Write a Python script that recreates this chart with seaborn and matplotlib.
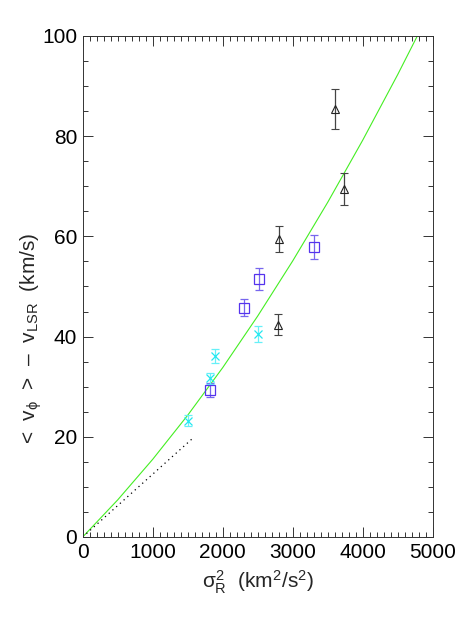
import numpy as np
import pandas as pd
import matplotlib
matplotlib.use("Agg")
import matplotlib.pyplot as plt
import seaborn as sns
from matplotlib.ticker import MultipleLocator

# Values
# black triangles
tri_x = [3604, 3733, 2800, 2786]
tri_y = [85.5, 69.5, 59.4, 42.4]
tri_err = [4.0, 3.2, 2.6, 2.1]

# blue squares
sq_x = [3309, 2523, 2309, 1823]
sq_y = [57.9, 51.4, 45.8, 29.3]
sq_err = [2.4, 2.2, 1.7, 1.4]

# cyan crosses
cx_x = [2509, 1890, 1819, 1500]
cx_y = [40.6, 36.1, 31.7, 23.2]
cx_err = [1.6, 1.4, 1.1, 1.1]

# green model curve
curve_x = [0, 500, 1000, 1500, 2000, 2500, 3000, 3500, 4000, 4500, 4780]
curve_y = [0, 7.4, 15.5, 24.3, 33.8, 44.1, 55.1, 66.8, 79.2, 92.3, 100.0]

# dotted reference line
dot_x = [0, 1580]
dot_y = [0, 19.8]

sns.set_theme(style="ticks")
plt.rcParams['font.family'] = ['Liberation Sans', 'DejaVu Sans']
plt.rcParams['mathtext.fontset'] = 'custom'
plt.rcParams['mathtext.rm'] = 'Liberation Sans'
plt.rcParams['mathtext.it'] = 'Liberation Sans'
plt.rcParams['mathtext.bf'] = 'Liberation Sans'

fig = plt.figure(figsize=(4.63, 6.17), dpi=100)
ax = fig.add_axes([0.1786, 0.1297, 0.756, 0.812])

curve = pd.DataFrame({'x': curve_x, 'y': curve_y})
sns.lineplot(data=curve, x='x', y='y', ax=ax, color='#44ee22', lw=0.8)
ax.plot(dot_x, dot_y, color='black', ls=(0, (1, 3)), lw=0.9)

ax.errorbar(tri_x, tri_y, yerr=tri_err, fmt='^', ms=6, mfc='none', mec='#222222',
            mew=0.8, ecolor='#444444', elinewidth=0.9, capsize=3, capthick=0.9)
ax.errorbar(sq_x, sq_y, yerr=sq_err, fmt='s', ms=6.5, mfc='none', mec='#5533ee',
            mew=0.9, ecolor='#7766ee', elinewidth=0.9, capsize=3, capthick=0.9)
ax.errorbar(cx_x, cx_y, yerr=cx_err, fmt='x', ms=5.5, mec='#22e8f0',
            mew=0.9, ecolor='#66f0f8', elinewidth=0.9, capsize=3, capthick=0.9)

ax.set_xlim(0, 5000)
ax.set_ylim(0, 100)
ax.xaxis.set_major_locator(MultipleLocator(1000))
ax.xaxis.set_minor_locator(MultipleLocator(100))
ax.yaxis.set_major_locator(MultipleLocator(20))
ax.yaxis.set_minor_locator(MultipleLocator(5))
ax.tick_params(which='both', direction='in', top=True, right=True,
               colors='#333333', labelcolor='black', labelsize=15, width=0.7)
ax.tick_params(which='major', length=7.5, pad=4)
ax.tick_params(which='minor', length=3.6)
for s in ax.spines.values():
    s.set_linewidth(0.7)
    s.set_color('#333333')

ax.set_xlabel(r'$\sigma^2_{\rm R}$  (km$^2$/s$^2$)', fontsize=15, labelpad=5)
ax.set_ylabel('<  v$_{\\phi}$  >  –  v$_{\\rm LSR}$  (km/s)', fontsize=15)
ax.yaxis.set_label_coords(-0.11, 0.397)

fig.savefig('out.png', dpi=100)
